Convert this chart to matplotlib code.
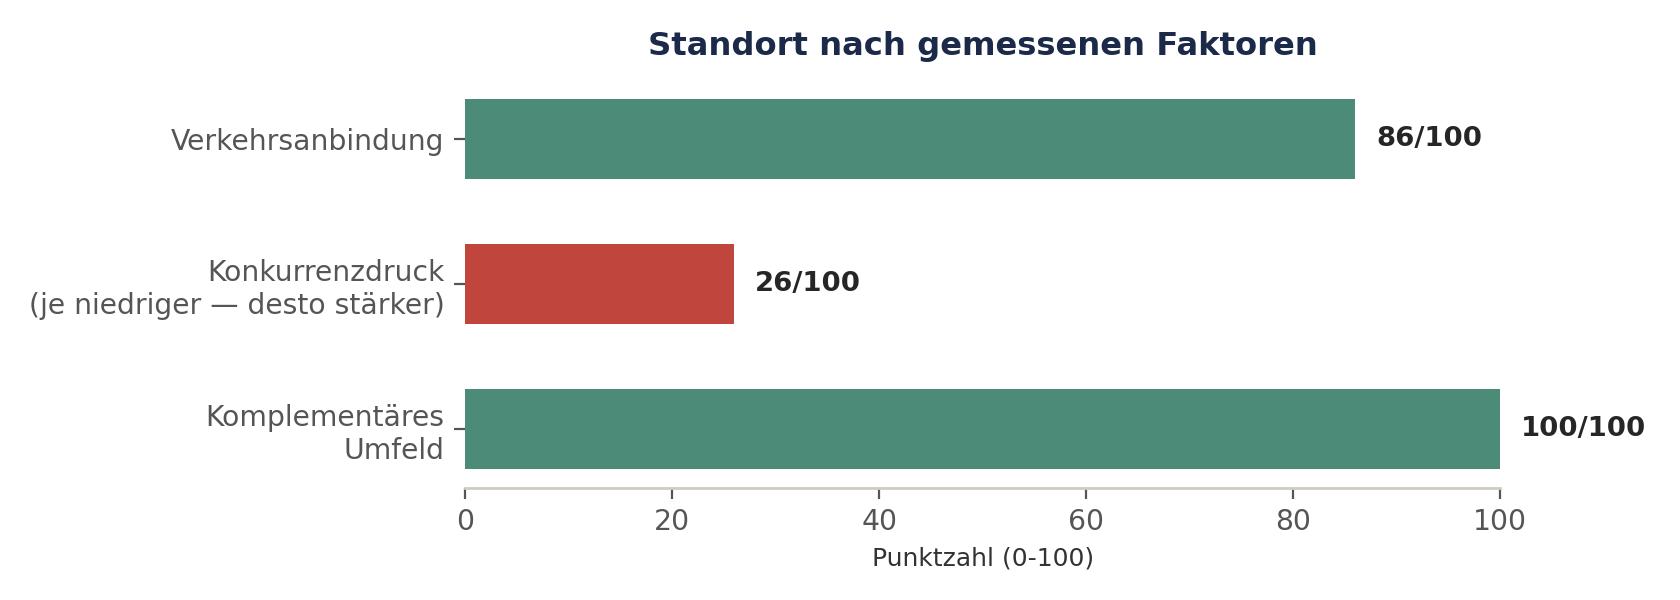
import matplotlib
matplotlib.use("Agg")
import matplotlib.pyplot as plt

plt.rcParams["font.family"] = ["DejaVu Sans"]

categories = ["Verkehrsanbindung",
              "Konkurrenzdruck\n(je niedriger — desto stärker)",
              "Komplementäres\nUmfeld"]
values = [86, 26, 100]
labels = ["86/100", "26/100", "100/100"]
colors = ["#4D8B79", "#C0453C", "#4D8B79"]
xticks = [0, 20, 40, 60, 80, 100]

fig = plt.figure(figsize=(8.4, 3.0), dpi=200)
ax = fig.add_axes([0.277, 0.1875, 0.616, 0.678])

ypos = list(range(len(categories)))
ax.barh(ypos, values, height=0.55, color=colors)
for y, v, t in zip(ypos, values, labels):
    ax.text(v + 2, y, t, va="center", ha="left", fontsize=9.9,
            fontweight="bold", color="#262626")

ax.set_ylim(2.4, -0.4)
ax.set_xlim(0, 100)
ax.set_yticks(ypos)
ax.set_yticklabels(categories, fontsize=10.2, color="#555555")
ax.set_xticks(xticks)
ax.set_xticklabels([str(x) for x in xticks], fontsize=10.2, color="#555555")
ax.set_xlabel("Punktzahl (0-100)", fontsize=9, color="#333333", labelpad=3.5)
ax.set_title("Standort nach gemessenen Faktoren", fontsize=11.6, fontweight="bold",
             color="#1C2A4A", pad=9.3)

for s in ["top", "right", "left"]:
    ax.spines[s].set_visible(False)
ax.spines["bottom"].set_color("#D0CCC0")
ax.spines["bottom"].set_linewidth(1.0)
ax.tick_params(axis="both", colors="#555555", length=4, width=0.8)
ax.tick_params(axis="y", labelcolor="#555555")
ax.tick_params(axis="x", labelcolor="#555555")

fig.savefig("out.png", dpi=200)
